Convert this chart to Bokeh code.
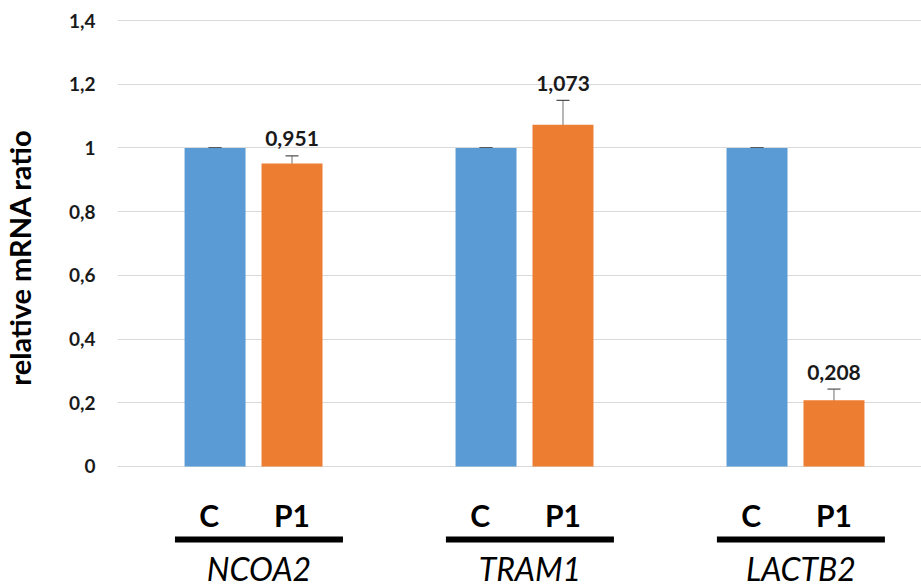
import math
from bokeh.plotting import figure
from bokeh.layouts import row
from bokeh.models import (ColumnDataSource, Range1d, FixedTicker, CustomJSTickFormatter,
                          Whisker, TeeHead)
from bokeh.core.properties import value
from bokeh.embed import file_html
from bokeh.resources import INLINE

# ---- data ----
genes = ["NCOA2", "TRAM1", "LACTB2"]
groups = ["C", "P1"]
c_vals = [1.0, 1.0, 1.0]
c_err = [0.0, 0.0, 0.0]
p1_vals = [0.951, 1.073, 0.208]
p1_err = [0.024, 0.076, 0.035]
y_ticks = [0, 0.2, 0.4, 0.6, 0.8, 1.0, 1.2, 1.4]
y_title = "relative mRNA ratio"

FONT = "Lato"
BLUE = "#5B9BD5"
ORANGE = "#ED7D31"
OFF = 0.142
BW = 0.225

gx = list(range(len(genes)))
c_x = [g - OFF for g in gx]
p_x = [g + OFF for g in gx]

# ---- narrow strip that carries the y-axis title ----
TW, H = 50, 588
t = figure(width=TW, height=H, output_backend="svg", toolbar_location=None,
           x_range=Range1d(0, TW), y_range=Range1d(0, H),
           x_axis_location=None, y_axis_location=None,
           min_border_left=0, min_border_right=0, min_border_top=0, min_border_bottom=0)
t.outline_line_color = None
t.grid.visible = False
t.text(x=[19], y=[H - 257], text=[y_title], angle=math.pi / 2, text_align="center",
       text_baseline="middle", text_font=value(FONT), text_font_style="bold",
       text_font_size="29px", text_color="#000000")

# ---- main chart ----
p = figure(width=921 - TW, height=H, output_backend="svg", toolbar_location=None,
           x_range=Range1d(-0.502, 2.465), y_range=Range1d(-0.383, 1.4628),
           x_axis_location=None, min_border_left=117 - TW, min_border_right=0,
           min_border_top=0, min_border_bottom=0)
p.outline_line_color = None
p.xgrid.visible = False
ticker = FixedTicker(ticks=y_ticks)
p.yaxis.ticker = ticker
p.ygrid.ticker = ticker
p.ygrid.grid_line_color = "#d9d9d9"
p.ygrid.grid_line_width = 1
p.yaxis.axis_line_color = None
p.yaxis.major_tick_line_color = None
p.yaxis.minor_tick_line_color = None
p.yaxis.major_tick_out = 0
p.yaxis.major_label_standoff = 22
p.yaxis.major_label_text_font = FONT
p.yaxis.major_label_text_font_style = "bold"
p.yaxis.major_label_text_font_size = "19px"
p.yaxis.major_label_text_color = "#1a1a1a"
p.yaxis.formatter = CustomJSTickFormatter(
    code="var s = tick.toFixed(1).replace('.', ','); return s.replace(/,0$/, '');")

# bars
src_c = ColumnDataSource(dict(x=c_x, top=c_vals, lo=[v - e for v, e in zip(c_vals, c_err)],
                              hi=[v + e for v, e in zip(c_vals, c_err)]))
src_p = ColumnDataSource(dict(x=p_x, top=p1_vals, lo=[v - e for v, e in zip(p1_vals, p1_err)],
                              hi=[v + e for v, e in zip(p1_vals, p1_err)],
                              lab=[f"{v:.3f}".replace(".", ",") for v in p1_vals]))
p.vbar(x="x", top="top", bottom=0, width=BW, source=src_c, fill_color=BLUE, line_color=None)
p.vbar(x="x", top="top", bottom=0, width=BW, source=src_p, fill_color=ORANGE, line_color=None)

for src in (src_c, src_p):
    w = Whisker(base="x", lower="lo", upper="hi", source=src, line_color="#707070", line_width=1,
                upper_head=TeeHead(size=13, line_color="#505050", line_width=1.2),
                lower_head=TeeHead(size=13, line_color="#505050", line_width=1.2))
    p.add_layout(w)

# value labels
p.text(x="x", y="hi", text="lab", source=src_p, text_align="center", text_baseline="alphabetic",
       y_offset=-17, text_font=value(FONT), text_font_style="bold", text_font_size="21px",
       text_color="#1a1a1a")

# group labels C / P1
lab_y = -0.151
p.text(x=[x - 0.022 for x in c_x], y=[lab_y] * len(gx), text=[groups[0]] * len(gx),
       text_align="center", text_baseline="alphabetic", text_font=value(FONT),
       text_font_style="bold", text_font_size="30px", text_color="#000000")
p.text(x=p_x, y=[lab_y] * len(gx), text=[groups[1]] * len(gx), text_align="center",
       text_baseline="alphabetic", text_font=value(FONT), text_font_style="bold",
       text_font_size="30px", text_color="#000000")

# black underline segments
line_y = -0.229
p.segment(x0=[g - 0.29 for g in gx], x1=[g + 0.33 for g in gx], y0=[line_y] * len(gx),
          y1=[line_y] * len(gx), line_color="#000000", line_width=6)

# gene names
p.text(x=[g + 0.02 for g in gx], y=[-0.321] * len(gx), text=genes, text_align="center",
       text_baseline="alphabetic", text_font=value(FONT), text_font_style="italic",
       text_font_size="32px", text_color="#000000")

layout = row(t, p, spacing=0)
open("out.html", "w").write(file_html(layout, INLINE))
